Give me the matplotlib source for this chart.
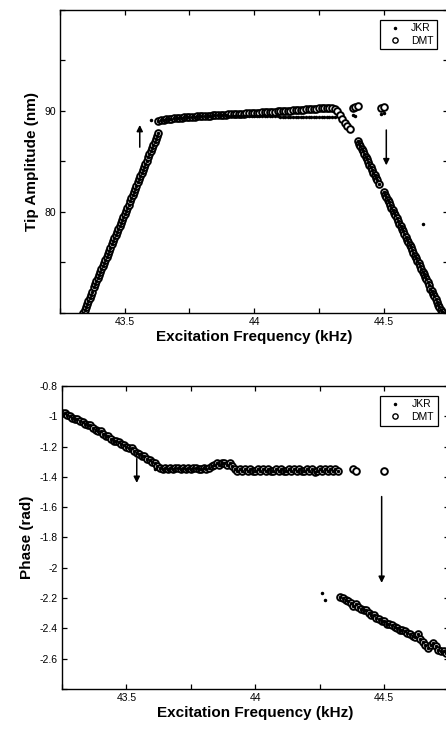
import numpy as np
import matplotlib
matplotlib.use('Agg')
import matplotlib.pyplot as plt

plt.rcParams['font.family'] = ['Liberation Sans', 'DejaVu Sans']

# ---- amplitude (nm) ----
# rising ramp 43.34 -> 43.63 kHz, 0.005 kHz steps (both models)
amp_ramp_up = [70.0, 70.3, 70.6, 70.9, 71.2, 71.5, 71.8, 72.1, 72.5, 72.8,
               73.1, 73.4, 73.7, 74.0, 74.3, 74.6, 74.9, 75.2, 75.5, 75.8,
               76.1, 76.4, 76.8, 77.1, 77.4, 77.7, 78.0, 78.3, 78.6, 78.9,
               79.2, 79.5, 79.8, 80.1, 80.4, 80.7, 81.1, 81.4, 81.7, 82.0,
               82.3, 82.6, 82.9, 83.2, 83.5, 83.8, 84.1, 84.4, 84.7, 85.0,
               85.4, 85.7, 86.0, 86.3, 86.6, 86.9, 87.2, 87.5, 87.8]
# upper branch 43.63 -> 44.37 kHz (DMT)
amp_dmt_top = [89.0, 89.1, 89.1, 89.2, 89.2, 89.2, 89.3, 89.3, 89.3, 89.3,
               89.4, 89.4, 89.4, 89.4, 89.4, 89.5, 89.5, 89.5, 89.5, 89.5,
               89.5, 89.6, 89.6, 89.6, 89.6, 89.6, 89.6, 89.7, 89.7, 89.7,
               89.7, 89.7, 89.7, 89.7, 89.8, 89.8, 89.8, 89.8, 89.8, 89.8,
               89.9, 89.9, 89.9, 89.9, 89.9, 89.9, 90.0, 90.0, 90.0, 90.0,
               90.0, 90.0, 90.1, 90.1, 90.1, 90.1, 90.1, 90.2, 90.2, 90.2,
               90.2, 90.2, 90.3, 90.3, 90.3, 90.3, 90.3, 90.3, 90.2, 90.0,
               89.6, 89.2, 88.8, 88.5, 88.2]
# upper branch for JKR, 43.63 -> 44.31 kHz
amp_jkr_top = [89.0, 89.1, 89.1, 89.2, 89.2, 89.2, 89.3, 89.3, 89.3, 89.3,
               89.4, 89.4, 89.4, 89.4, 89.4, 89.5, 89.5, 89.5, 89.5, 89.5,
               89.5, 89.6, 89.6, 89.6, 89.6, 89.6, 89.6, 89.5, 89.5, 89.5,
               89.5, 89.5, 89.5, 89.5, 89.5, 89.5, 89.5, 89.5, 89.5, 89.5,
               89.5, 89.5, 89.5, 89.5, 89.5, 89.5, 89.5, 89.4, 89.4, 89.4,
               89.4, 89.4, 89.4, 89.4, 89.4, 89.4, 89.4, 89.4, 89.4, 89.4,
               89.4, 89.4, 89.4, 89.4, 89.4, 89.4, 89.4, 89.4, 89.4]
# falling part 44.40 -> 44.48 kHz, 0.005 kHz steps
amp_fall_a = [87.0, 86.7, 86.5, 86.2, 86.0, 85.7, 85.4, 85.2, 84.9, 84.6,
              84.4, 84.1, 83.8, 83.6, 83.3, 83.1, 82.8]
# falling part 44.50 -> 44.73 kHz, 0.005 kHz steps
amp_fall_b = [82.0, 81.7, 81.5, 81.2, 81.0, 80.7, 80.4, 80.2, 79.9, 79.7,
              79.4, 79.1, 78.8, 78.6, 78.3, 78.1, 77.8, 77.5, 77.2, 77.0,
              76.7, 76.5, 76.2, 75.9, 75.6, 75.4, 75.1, 74.9, 74.6, 74.3,
              74.0, 73.8, 73.5, 73.3, 73.0, 72.7, 72.4, 72.2, 71.9, 71.7,
              71.4, 71.1, 70.8, 70.6, 70.3, 70.1, 69.8]
# isolated points
amp_dmt_iso_f = [44.38, 44.39, 44.40, 44.49, 44.50]
amp_dmt_iso = [90.3, 90.4, 90.5, 90.3, 90.4]
amp_jkr_iso_f = [43.60, 44.38, 44.39, 44.49, 44.50, 44.65]
amp_jkr_iso = [89.1, 89.6, 89.5, 89.7, 89.8, 78.8]

# ---- phase (rad) ----
# 43.25 -> 43.64 kHz
ph_down = [-0.98, -0.98, -0.99, -1.00, -1.01, -1.02, -1.02, -1.03, -1.04, -1.05,
           -1.06, -1.06, -1.08, -1.09, -1.10, -1.10, -1.12, -1.13, -1.13, -1.15,
           -1.16, -1.16, -1.17, -1.18, -1.19, -1.20, -1.21, -1.21, -1.23, -1.24,
           -1.25, -1.26, -1.26, -1.28, -1.29, -1.30, -1.31, -1.33, -1.34, -1.35]
# flat part 43.65 -> 44.32 kHz
ph_flat = [-1.34, -1.35, -1.34, -1.35, -1.34, -1.34, -1.35, -1.34, -1.35, -1.34,
           -1.35, -1.34, -1.34, -1.35, -1.35, -1.34, -1.35, -1.34, -1.33, -1.32,
           -1.31, -1.32, -1.31, -1.31, -1.32, -1.31, -1.33, -1.35, -1.36, -1.35,
           -1.36, -1.35, -1.36, -1.35, -1.36, -1.36, -1.35, -1.36, -1.35, -1.36,
           -1.35, -1.36, -1.36, -1.35, -1.36, -1.35, -1.36, -1.36, -1.35, -1.36,
           -1.35, -1.36, -1.35, -1.36, -1.36, -1.35, -1.36, -1.35, -1.37, -1.36,
           -1.35, -1.36, -1.35, -1.36, -1.35, -1.36, -1.35, -1.36]
# lower branch 44.33 -> 44.74 kHz
ph_low = [-2.19, -2.20, -2.21, -2.22, -2.23, -2.25, -2.24, -2.26, -2.27, -2.28,
          -2.28, -2.30, -2.31, -2.31, -2.33, -2.34, -2.35, -2.35, -2.37, -2.37,
          -2.38, -2.39, -2.40, -2.41, -2.41, -2.42, -2.43, -2.44, -2.45, -2.46,
          -2.44, -2.47, -2.49, -2.51, -2.53, -2.51, -2.50, -2.52, -2.54, -2.55,
          -2.55, -2.56]
ph_dmt_iso_f = [44.38, 44.39, 44.50]
ph_dmt_iso = [-1.35, -1.36, -1.36]
ph_jkr_iso_f = [43.61, 44.26, 44.27]
ph_jkr_iso = [-1.35, -2.17, -2.21]

# arrows: (freq, tail, head)
amp_arrows = [(43.558, 86.4, 88.6), (44.51, 88.1, 84.6)]
ph_arrows = [(43.54, -1.28, -1.44), (44.49, -1.53, -2.10)]

# sweep frequencies
f_ramp_up = np.linspace(43.34, 43.63, len(amp_ramp_up))
f_dmt_top = np.linspace(43.63, 44.37, len(amp_dmt_top))
f_jkr_top = np.linspace(43.63, 44.31, len(amp_jkr_top))
f_fall_a = np.linspace(44.40, 44.48, len(amp_fall_a))
f_fall_b = np.linspace(44.50, 44.73, len(amp_fall_b))
f_ph_down = np.linspace(43.25, 43.64, len(ph_down))
f_ph_flat = np.linspace(43.65, 44.32, len(ph_flat))
f_ph_low = np.linspace(44.33, 44.74, len(ph_low))

dmt_style = dict(ls='none', marker='o', ms=4.8, mfc='white', mec='black', mew=1.4)
jkr_style = dict(ls='none', marker='.', ms=3, color='black')

fig = plt.figure(figsize=(4.46, 7.29), dpi=100)
ax1 = fig.add_axes([0.1345, 0.571, 0.871, 0.4155])
ax2 = fig.add_axes([0.139, 0.055, 0.867, 0.4155])

# amplitude
f_jkr_all = np.concatenate([f_ramp_up, f_jkr_top, f_fall_a, f_fall_b, amp_jkr_iso_f])
a_jkr_all = np.concatenate([amp_ramp_up, amp_jkr_top, amp_fall_a, amp_fall_b, amp_jkr_iso])
f_dmt_all = np.concatenate([f_ramp_up, f_dmt_top, f_fall_a, f_fall_b, amp_dmt_iso_f])
a_dmt_all = np.concatenate([amp_ramp_up, amp_dmt_top, amp_fall_a, amp_fall_b, amp_dmt_iso])
ax1.plot(f_dmt_all, a_dmt_all, label='DMT', **dmt_style)
ax1.plot(f_jkr_all, a_jkr_all, label='JKR', **jkr_style)

# phase
f_ph = np.concatenate([f_ph_down, f_ph_flat, f_ph_low])
p_ph = np.concatenate([ph_down, ph_flat, ph_low])
ax2.plot(np.concatenate([f_ph, ph_dmt_iso_f]), np.concatenate([p_ph, ph_dmt_iso]),
         label='DMT', **dmt_style)
ax2.plot(np.concatenate([f_ph, ph_jkr_iso_f]), np.concatenate([p_ph, ph_jkr_iso]),
         label='JKR', **jkr_style)

for ax, arrows in [(ax1, amp_arrows), (ax2, ph_arrows)]:
    for f, y0, y1 in arrows:
        ax.annotate('', xy=(f, y1), xytext=(f, y0),
                    arrowprops=dict(arrowstyle='-|>', color='black', lw=1.1,
                                    mutation_scale=9, shrinkA=0, shrinkB=0))

ax1.set_xlim(43.25, 44.75)
ax1.set_ylim(70, 100)
ax1.set_yticks([70, 75, 80, 85, 90, 95, 100])
ax1.set_yticklabels(['', '', '80', '', '90', '', ''])
ax1.set_ylabel('Tip Amplitude (nm)', fontsize=11, fontweight='bold')

ax2.set_xlim(43.25, 44.75)
ax2.set_ylim(-2.8, -0.8)
ph_ticks = [-2.8, -2.6, -2.4, -2.2, -2.0, -1.8, -1.6, -1.4, -1.2, -1.0, -0.8]
ph_labels = ['', '-2.6', '-2.4', '-2.2', '-2', '-1.8', '-1.6', '-1.4', '-1.2', '-1', '-0.8']
ax2.set_yticks(ph_ticks)
ax2.set_yticklabels(ph_labels)
ax2.set_ylabel('Phase (rad)', fontsize=11, fontweight='bold')

for ax in (ax1, ax2):
    ax.set_xticks([43.25, 43.5, 43.75, 44.0, 44.25, 44.5, 44.75])
    ax.set_xticklabels(['', '43.5', '', '44', '', '44.5', ''])
    ax.set_xlabel('Excitation Frequency (kHz)', fontsize=11, fontweight='bold', labelpad=2)
    ax.tick_params(direction='in', top=True, right=True, length=3.5, width=0.9,
                   labelsize=7.5, pad=3)
    for s in ax.spines.values():
        s.set_linewidth(1.0)
    h, l = ax.get_legend_handles_labels()
    leg = ax.legend(h[::-1], l[::-1], loc='upper right', fontsize=7.5, fancybox=False,
                    edgecolor='black', framealpha=1, handlelength=2.2, handletextpad=0.5,
                    borderpad=0.35, labelspacing=0.25, bbox_to_anchor=(0.985, 0.985))
    leg.get_frame().set_linewidth(0.9)
    # smaller circle in the legend, like the original
    leg.legend_handles[1].set_markersize(3.8)
    leg.legend_handles[1].set_markeredgewidth(1.0)

fig.savefig('out.png', dpi=100)
